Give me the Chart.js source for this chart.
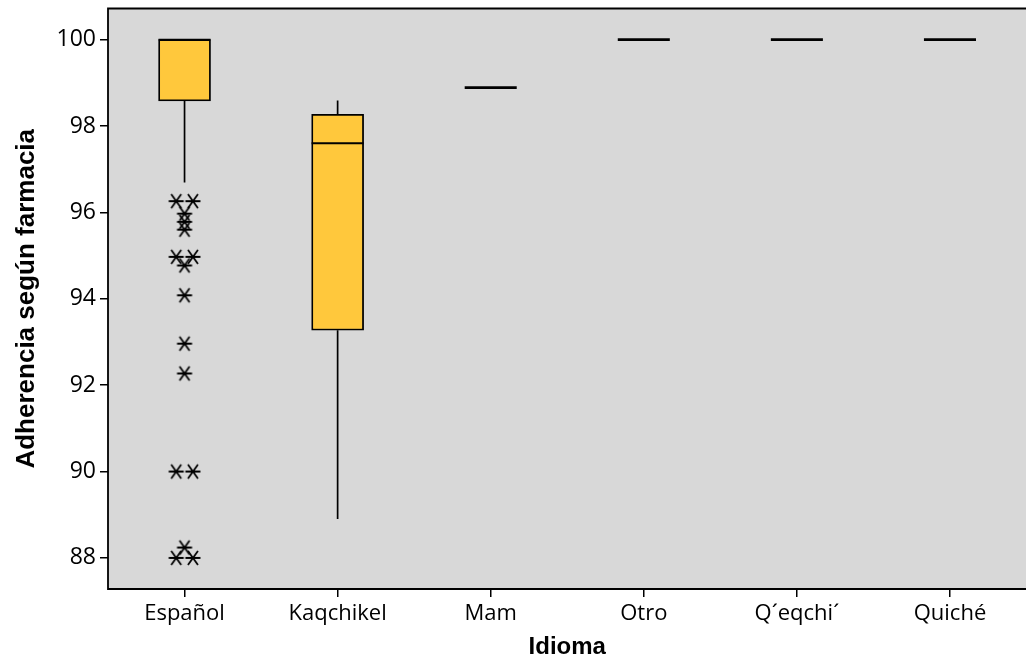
<!DOCTYPE html>
<html>
<head>
<meta charset="utf-8">
<script src="https://cdn.jsdelivr.net/npm/chart.js@4"></script>
<style>
  html, body { margin: 0; padding: 0; background: #ffffff; overflow: hidden; }
  #wrap { width: 1026px; height: 662px; overflow: hidden; }
  canvas { display: block; }
</style>
</head>
<body>
<div id="wrap"><canvas id="c" width="1030" height="662"></canvas></div>
<script>
// Adherencia según farmacia por idioma (diagrama de caja)
const idiomas = ['Español', 'Kaqchikel', 'Mam', 'Otro', 'Q´eqchi´', 'Quiché'];
const cuartil1 = [98.58, 93.27, 98.89, 100, 100, 100];
const mediana  = [100, 97.6, 98.89, 100, 100, 100];
const cuartil3 = [100, 98.27, 98.89, 100, 100, 100];
const bigoteInf = [96.69, 88.9, 98.89, 100, 100, 100];
const bigoteSup = [100, 98.59, 98.89, 100, 100, 100];
// valores atípicos del grupo Español
const atipicosEspanol = [96.26, 96.26, 95.97, 95.78, 95.6, 94.97, 94.97, 94.77,
                         94.08, 92.96, 92.27, 90, 90, 88.24, 88, 88];
const marcasY = [88, 90, 92, 94, 96, 98, 100];

// box half-width in category units for median segments
const HALF = 0.17;
// horizontal step between tied outliers (category units)
const STEP = 0.109;

// asterisk symbol used for outliers
function asterisco() {
  const s = 18, c = document.createElement('canvas');
  c.width = s; c.height = s;
  const g = c.getContext('2d');
  g.strokeStyle = '#000';
  g.lineWidth = 1.8;
  g.lineCap = 'butt';
  const m = s / 2;
  g.beginPath();
  g.moveTo(m - 7.5, m); g.lineTo(m + 7.5, m);
  g.moveTo(m - 5, m - 7); g.lineTo(m + 5, m + 7);
  g.moveTo(m + 5, m - 7); g.lineTo(m - 5, m + 7);
  g.stroke();
  return c;
}

const cajas = idiomas.map((_, i) => cuartil3[i] > cuartil1[i] ? [cuartil1[i], cuartil3[i]] : null);

const bigotes = [];
idiomas.forEach((_, i) => {
  if (bigoteInf[i] < cuartil1[i]) {
    bigotes.push({x: i, y: cuartil1[i]}, {x: i, y: bigoteInf[i]}, {x: i, y: null});
  }
  if (bigoteSup[i] > cuartil3[i]) {
    bigotes.push({x: i, y: cuartil3[i]}, {x: i, y: bigoteSup[i]}, {x: i, y: null});
  }
});

const medianas = [], planas = [];
idiomas.forEach((_, i) => {
  const dest = cuartil3[i] > cuartil1[i] ? medianas : planas;
  dest.push({x: i - HALF, y: mediana[i]}, {x: i + HALF, y: mediana[i]}, {x: i, y: null});
});

// tied outliers are placed side by side
const conteo = {};
atipicosEspanol.forEach(v => { conteo[v] = (conteo[v] || 0) + 1; });
const visto = {};
const puntosAtipicos = atipicosEspanol.map(v => {
  const n = conteo[v], k = visto[v] || 0;
  visto[v] = k + 1;
  return {x: 0 + (k - (n - 1) / 2) * STEP, y: v};
});

const fondo = {
  id: 'fondo',
  beforeDraw(chart) {
    const {ctx, chartArea: a} = chart;
    ctx.save();
    ctx.fillStyle = '#ffffff';
    ctx.fillRect(0, 0, chart.width, chart.height);
    ctx.fillStyle = '#D8D8D8';
    ctx.fillRect(a.left, a.top, a.right - a.left, a.bottom - a.top);
    ctx.restore();
  },
  afterDraw(chart) {
    const {ctx, chartArea: a} = chart;
    ctx.save();
    ctx.strokeStyle = '#000';
    ctx.lineWidth = 1.8;
    ctx.beginPath();
    ctx.moveTo(a.right + 5, a.top);
    ctx.lineTo(a.left, a.top);
    ctx.lineTo(a.left, a.bottom);
    ctx.lineTo(a.right + 5, a.bottom);
    ctx.stroke();
    ctx.restore();
  }
};

new Chart(document.getElementById('c'), {
  type: 'bar',
  data: {
    labels: idiomas,
    datasets: [
      {
        type: 'line', label: 'bigotes', data: bigotes, xAxisID: 'xl',
        borderColor: '#000', borderWidth: 1.7, pointRadius: 0, spanGaps: false, order: 3
      },
      {
        type: 'bar', label: 'cajas', data: cajas, xAxisID: 'x',
        backgroundColor: '#FFC83C', borderColor: '#000', borderWidth: 1.8,
        borderSkipped: false, grouped: false, barThickness: 52, maxBarThickness: 52,
        barPercentage: 0.34, categoryPercentage: 1, order: 2
      },
      {
        type: 'line', label: 'medianas', data: medianas, xAxisID: 'xl',
        borderColor: '#000', borderWidth: 1.8, pointRadius: 0, spanGaps: false, order: 1
      },
      {
        type: 'line', label: 'planas', data: planas, xAxisID: 'xl',
        borderColor: '#000', borderWidth: 2.7, pointRadius: 0, spanGaps: false, order: 1
      },
      {
        type: 'scatter', label: 'atípicos', data: puntosAtipicos, xAxisID: 'xl',
        pointStyle: asterisco(), pointRadius: 9, order: 0
      }
    ]
  },
  options: {
    responsive: false,
    animation: false,
    devicePixelRatio: 1,
    layout: { autoPadding: false, padding: { top: 8.5, left: 0, right: 3.5, bottom: 0 } },
    plugins: { legend: { display: false }, tooltip: { enabled: false } },
    scales: {
      x: {
        type: 'category', offset: true,
        grid: { offset: false, drawOnChartArea: false, drawTicks: true, tickLength: 8, color: '#000', lineWidth: 1.5 },
        border: { display: false },
        ticks: { color: '#000', padding: 4, maxRotation: 0, font: { family: 'Open Sans', size: 22 } },
        title: { display: true, text: 'Idioma', color: '#000', padding: { top: 0, bottom: 0 },
                 font: { family: 'Liberation Sans', size: 24, weight: 'bold' } },
        afterFit(s) { s.height = 73; s.paddingLeft = 0; s.paddingRight = 0; }
      },
      xl: {
        type: 'linear', display: false, offset: false, min: -0.5, max: 5.5,
        grid: { offset: false }
      },
      y: {
        type: 'linear', min: 87.28, max: 100.72,
        afterBuildTicks(s) { s.ticks = marcasY.map(v => ({value: v})); },
        grid: { drawOnChartArea: false, drawTicks: true, tickLength: 8, color: '#000', lineWidth: 1.5 },
        border: { display: false },
        ticks: { color: '#000', padding: 4, font: { family: 'Open Sans', size: 23 } },
        title: { display: true, text: 'Adherencia según farmacia', color: '#000', padding: { top: 11, bottom: 0 },
                 font: { family: 'Liberation Sans', size: 26, weight: 'bold' } },
        afterFit(s) { s.width = 108; s.paddingTop = 0; s.paddingBottom = 0; }
      }
    }
  },
  plugins: [fondo]
});
</script>
</body>
</html>
